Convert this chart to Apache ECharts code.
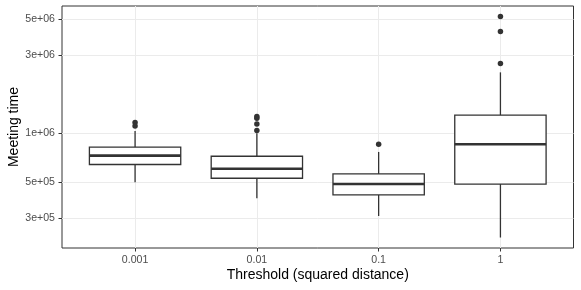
<!DOCTYPE html>
<html>
<head>
<meta charset="utf-8">
<script src="https://cdn.jsdelivr.net/npm/echarts@6/dist/echarts.min.js"></script>
<style>html,body{margin:0;padding:0;background:#fff}#c{width:581px;height:290px}</style>
</head>
<body>
<div id="c"></div>
<script>
// ---- data ----
var categories = ['0.001', '0.01', '0.1', '1'];
var whiskerLow  = [4.98e5, 3.97e5, 3.09e5, 2.28e5];
var q1          = [6.40e5, 5.27e5, 4.16e5, 4.85e5];
var median      = [7.25e5, 6.03e5, 4.86e5, 8.52e5];
var q3          = [8.17e5, 7.19e5, 5.60e5, 1.285e6];
var whiskerHigh = [1.029e6, 9.96e5, 7.64e5, 2.353e6];
var outliers0001 = [1.160e6, 1.104e6];
var outliers001  = [1.263e6, 1.228e6, 1.136e6, 1.036e6];
var outliers01   = [8.52e5];
var outliers1    = [2.666e6, 4.19e6, 5.18e6];
var yTickValues = [3e5, 5e5, 1e6, 3e6, 5e6];
var yTickLabels = ['3e+05', '5e+05', '1e+06', '3e+06', '5e+06'];
var yRange = [1.966e5, 6.01e6];

// ---- build ----
var L = Math.log10;
var boxData = categories.map(function (c, i) {
  return [i + 1, L(whiskerLow[i]), L(q1[i]), L(median[i]), L(q3[i]), L(whiskerHigh[i])];
});
var outlierLists = [outliers0001, outliers001, outliers01, outliers1];
var outlierData = [];
outlierLists.forEach(function (arr, i) {
  arr.forEach(function (v) { outlierData.push([i + 1, L(v)]); });
});
var yTickLogs = yTickValues.map(L);

var FONT = 'Liberation Sans, Arial, Helvetica, sans-serif';
var INK = '#333333';

var chart = echarts.init(document.getElementById('c'), null, {renderer: 'canvas'});
chart.setOption({
  animation: false,
  backgroundColor: '#ffffff',
  grid: {left: 62, top: 6, width: 511.5, height: 242, containLabel: false, outerBoundsMode: 'none',
    show: true, borderColor: INK, borderWidth: 1, backgroundColor: 'transparent'},
  xAxis: {
    type: 'value', min: 0.4, max: 4.6,
    name: 'Threshold (squared distance)', nameLocation: 'middle', nameGap: 20, nameMoveOverlap: false,
    nameTextStyle: {fontFamily: FONT, fontSize: 14, color: '#000'},
    axisLine: {show: false},
    axisTick: {show: true, length: 3.5, customValues: [1, 2, 3, 4], lineStyle: {color: INK, width: 1}},
    axisLabel: {customValues: [1, 2, 3, 4], margin: 7, fontFamily: FONT, fontSize: 10.6, color: '#4d4d4d',
      formatter: function (v) { return categories[Math.round(v) - 1] || ''; }},
    splitLine: {show: true, lineStyle: {color: '#ebebeb', width: 1}}
  },
  yAxis: {
    type: 'value', min: L(yRange[0]), max: L(yRange[1]),
    name: 'Meeting time', nameLocation: 'middle', nameGap: 41, nameRotate: 90, nameMoveOverlap: false,
    nameTextStyle: {fontFamily: FONT, fontSize: 14, color: '#000'},
    axisLine: {show: false},
    axisTick: {show: true, length: 3.5, customValues: yTickLogs, lineStyle: {color: INK, width: 1}},
    axisLabel: {customValues: yTickLogs, margin: 7, fontFamily: FONT, fontSize: 10.6, color: '#4d4d4d',
      formatter: function (v) {
        for (var i = 0; i < yTickLogs.length; i++) if (Math.abs(yTickLogs[i] - v) < 1e-6) return yTickLabels[i];
        return '';
      }},
    splitLine: {show: true, lineStyle: {color: '#ebebeb', width: 1}}
  },
  series: [
    {
      type: 'custom',
      data: boxData,
      encode: {x: 0, y: [1, 2, 3, 4, 5]},
      renderItem: function (params, api) {
        var x = api.value(0);
        var pLow = api.coord([x, api.value(1)]);
        var pQ1 = api.coord([x, api.value(2)]);
        var pMed = api.coord([x, api.value(3)]);
        var pQ3 = api.coord([x, api.value(4)]);
        var pHigh = api.coord([x, api.value(5)]);
        var hw = api.size([0.75, 0])[0] / 2;
        var cx = pMed[0];
        var ls = {stroke: INK, lineWidth: 1.3};
        return {type: 'group', children: [
          {type: 'line', shape: {x1: cx, y1: pQ3[1], x2: cx, y2: pHigh[1]}, style: ls},
          {type: 'line', shape: {x1: cx, y1: pQ1[1], x2: cx, y2: pLow[1]}, style: ls},
          {type: 'rect', shape: {x: cx - hw, y: pQ3[1], width: 2 * hw, height: pQ1[1] - pQ3[1]}, style: {fill: '#ffffff', stroke: INK, lineWidth: 1.3}},
          {type: 'line', shape: {x1: cx - hw, y1: pMed[1], x2: cx + hw, y2: pMed[1]}, style: {stroke: INK, lineWidth: 2.6}}
        ]};
      },
      z: 2
    },
    {
      type: 'scatter',
      data: outlierData,
      symbol: 'circle',
      symbolSize: 5.5,
      itemStyle: {color: INK, opacity: 1},
      z: 3
    }
  ]
});
</script>
</body>
</html>
